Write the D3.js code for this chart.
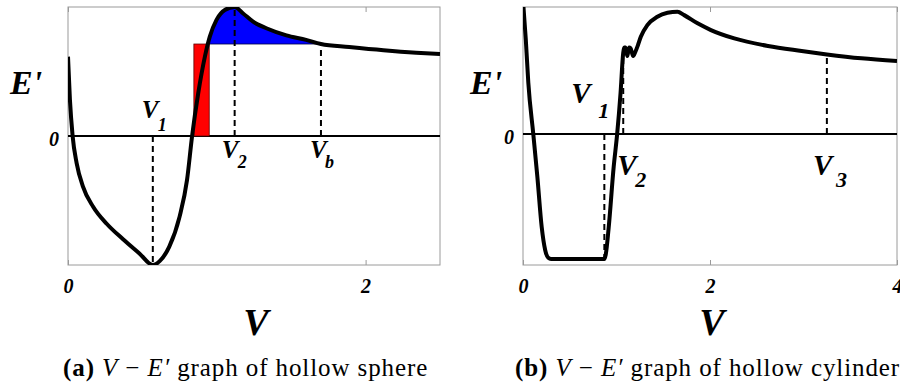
<!DOCTYPE html>
<html>
<head>
<meta charset="utf-8">
<script src="https://cdn.jsdelivr.net/npm/d3@7"></script>
<style>
  body { margin: 0; background: #fff; }
  svg { display: block; }
  .lbl { font-family: "Liberation Serif", "Times New Roman", serif; font-weight: bold; font-style: italic; }
  .cap { font-family: "Liberation Serif", "Times New Roman", serif; }
</style>
</head>
<body>
<svg id="fig" width="900" height="384"></svg>
<script>
// hollow sphere curve (V, E')
const sphereV = [0, 0.013, 0.031, 0.058, 0.10, 0.17, 0.26, 0.37, 0.48, 0.57, 0.616, 0.68, 0.75, 0.80, 0.834, 0.875, 0.92, 0.953, 0.998, 1.054, 1.12, 1.177, 1.244, 1.333, 1.468, 1.60, 1.70, 1.89, 2.12, 2.34, 2.5];
const sphereE = [0.615, 0.28, 0, -0.21, -0.39, -0.55, -0.68, -0.80, -0.91, -1.0, -0.97, -0.86, -0.625, -0.34, 0, 0.33, 0.615, 0.77, 0.90, 0.977, 1.0, 0.95, 0.886, 0.835, 0.78, 0.745, 0.713, 0.69, 0.665, 0.646, 0.636];
const sphereMarks = [0.57, 1.12, 1.70];
const sphereSubs = ["1", "2", "b"];
const redBand = [0.846, 0.949];   // V range of red rectangle
const fillLevel = 0.713;          // E' level of red top / blue bottom

// hollow cylinder curve
const cylV = [0, 0.03, 0.057, 0.11, 0.154, 0.20, 0.237, 0.27, 0.30, 0.87, 0.885, 0.917, 0.97, 1.007, 1.043, 1.072, 1.082, 1.098, 1.115, 1.135, 1.15, 1.178, 1.20, 1.23, 1.26, 1.33, 1.437, 1.545, 1.652, 1.724, 1.867, 2.01, 2.26, 2.62, 2.98, 3.25, 3.62, 4.0];
const cylE = [1.02, 0.72, 0.39, 0, -0.33, -0.71, -0.885, -0.945, -0.954, -0.954, -0.92, -0.71, -0.25, 0, 0.31, 0.62, 0.66, 0.66, 0.595, 0.66, 0.655, 0.595, 0.625, 0.68, 0.743, 0.832, 0.896, 0.926, 0.934, 0.908, 0.845, 0.794, 0.73, 0.672, 0.634, 0.608, 0.578, 0.557];
const cylMarks = [0.87, 1.072, 3.25];
const cylSubs = ["1", "2", "3"];

const xTicksA = [0, 2];
const xTicksB = [0, 2, 4];

const svg = d3.select("#fig");

function panel(id, V, E, xDom, xRange, yDom, ticks, marks, subs, lab, bigLbl, eOff) {
    const x = d3.scaleLinear().domain(xDom).range(xRange);
    const y = d3.scaleLinear().domain(yDom).range([265, 7]);
    const g = svg.append("g");
    const pts = V.map((v, i) => [v, E[i]]);
    const eAt = v => E[V.indexOf(v)];

    g.append("clipPath").attr("id", "clip" + id)
        .append("rect")
        .attr("x", x(xDom[0])).attr("y", y(yDom[1]))
        .attr("width", x(xDom[1]) - x(xDom[0]))
        .attr("height", y(yDom[0]) - y(yDom[1]));

    // axes box
    g.append("rect")
        .attr("x", x(xDom[0])).attr("y", y(yDom[1]))
        .attr("width", x(xDom[1]) - x(xDom[0]))
        .attr("height", y(yDom[0]) - y(yDom[1]))
        .attr("fill", "none").attr("stroke", "#9a9a9a").attr("stroke-width", 1);

    const xb = g.append("g").attr("transform", `translate(0,${y(yDom[0])})`)
        .call(d3.axisBottom(x).tickValues(ticks).tickSize(-5).tickFormat(d3.format("d")));
    xb.select(".domain").remove();
    xb.selectAll("line").attr("stroke", "#9a9a9a");
    xb.selectAll("text").attr("class", "lbl").style("font-size", "20px")
        .attr("y", 28).attr("dy", 0).attr("fill", "#000");

    const xt = g.append("g").attr("transform", `translate(0,${y(yDom[1])})`)
        .call(d3.axisTop(x).tickValues(ticks).tickSize(-5).tickFormat(""));
    xt.select(".domain").remove();
    xt.selectAll("line").attr("stroke", "#9a9a9a");

    const yl = g.append("g").attr("transform", `translate(${x(xDom[0])},0)`)
        .call(d3.axisLeft(y).tickValues([0]).tickSize(0).tickFormat(d3.format("d")));
    yl.select(".domain").remove();
    yl.selectAll("text").attr("class", "lbl").style("font-size", "20px")
        .attr("x", -9).attr("dy", 9).attr("fill", "#000");

    // zero line
    g.append("line")
        .attr("x1", x(xDom[0])).attr("x2", x(xDom[1]))
        .attr("y1", y(0)).attr("y2", y(0))
        .attr("stroke", "#000").attr("stroke-width", 2);

    if (id === "a") {
        g.append("rect")
            .attr("x", x(redBand[0])).attr("y", y(fillLevel))
            .attr("width", x(redBand[1]) - x(redBand[0]))
            .attr("height", y(0) - y(fillLevel))
            .attr("fill", "#ff0000").attr("stroke", "#5a0000").attr("stroke-width", 0.8);

        g.append("clipPath").attr("id", "blueclip")
            .append("rect")
            .attr("x", x(redBand[0])).attr("y", y(yDom[1]))
            .attr("width", x(marks[2]) - x(redBand[0]))
            .attr("height", y(fillLevel) - y(yDom[1]));

        g.append("path").datum(pts)
            .attr("clip-path", "url(#blueclip)")
            .attr("fill", "#0000ff")
            .attr("d", d3.area().curve(d3.curveMonotoneX)
                .x(d => x(d[0])).y0(y(fillLevel)).y1(d => y(d[1])));

        g.append("line")
            .attr("x1", x(redBand[1])).attr("x2", x(marks[2]))
            .attr("y1", y(fillLevel)).attr("y2", y(fillLevel))
            .attr("stroke", "#000040").attr("stroke-width", 0.8);
    }

    // dashed markers
    g.selectAll("line.mark").data(marks).join("line")
        .attr("class", "mark")
        .attr("x1", d => x(d)).attr("x2", d => x(d))
        .attr("y1", y(0)).attr("y2", d => y(eAt(d)))
        .attr("stroke", "#000").attr("stroke-width", 2)
        .attr("stroke-dasharray", "6,4");

    // curve
    g.append("path").datum(pts)
        .attr("clip-path", `url(#clip${id})`)
        .attr("fill", "none").attr("stroke", "#000")
        .attr("stroke-width", 4).attr("stroke-linejoin", "round")
        .attr("d", d3.line().curve(d3.curveMonotoneX).x(d => x(d[0])).y(d => y(d[1])));

    // V_i labels
    lab.forEach((l, i) => {
        g.append("text").attr("class", "lbl")
            .attr("x", x(marks[i]) + l[0]).attr("y", y(0) + l[1])
            .style("font-size", (bigLbl ? 29 : 25) + "px").text("V");
        g.append("text").attr("class", "lbl")
            .attr("x", x(marks[i]) + l[2]).attr("y", y(0) + l[3])
            .style("font-size", (bigLbl ? 22 : 18) + "px").text(subs[i]);
    });

    // axis titles
    g.append("text").attr("class", "lbl")
        .attr("x", x(xDom[0]) + eOff).attr("y", 94)
        .style("font-size", "34px").text("E'");
    g.append("text").attr("class", "lbl")
        .attr("x", (x(xDom[0]) + x(xDom[1])) / 2 + 2).attr("y", 335)
        .attr("text-anchor", "middle")
        .style("font-size", "38px").text("V");
    return g;
}

panel("a", sphereV, sphereE, [0, 2.5], [68, 440], [-1, 1], xTicksA, sphereMarks, sphereSubs,
    [[-11, -18, 5, -5], [-13, 22, 3, 32], [-11, 22, 4, 32]], false, -58);
panel("b", cylV, cylE, [0, 4], [523, 897], [-1, 0.97], xTicksB, cylMarks, cylSubs,
    [[-33, -31, -6, -16], [-6, 41, 12, 53], [-14, 41, 9, 53]], true, -53);

function caption(x0, letter, rest) {
    const t = svg.append("text").attr("class", "cap")
        .attr("x", x0).attr("y", 376)
        .style("font-size", "25px").style("letter-spacing", "0.9px");
    t.append("tspan").attr("font-weight", "bold").text(letter + " ");
    t.append("tspan").attr("font-style", "italic").text("V");
    t.append("tspan").text(" \u2212 ");
    t.append("tspan").attr("font-style", "italic").text("E\u2032");
    t.append("tspan").text(" " + rest);
}
caption(63, "(a)", "graph of hollow sphere");
caption(515, "(b)", "graph of hollow cylinder");
</script>
</body>
</html>
